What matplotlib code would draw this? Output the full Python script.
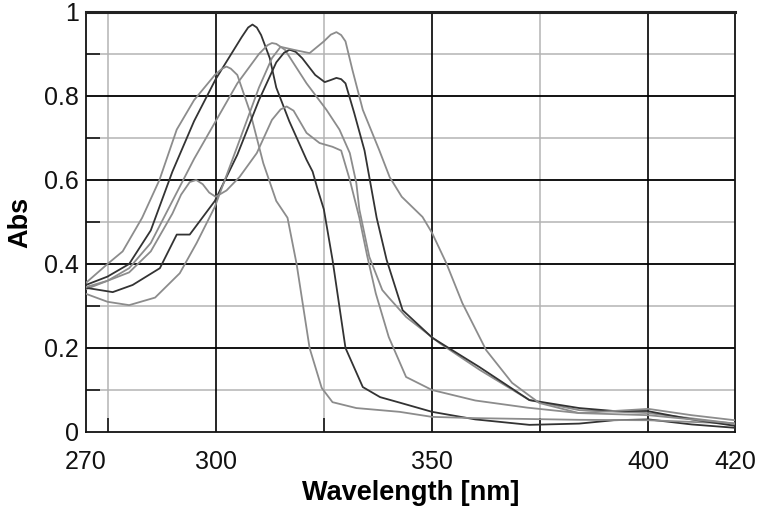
import matplotlib
matplotlib.use("Agg")
import matplotlib.pyplot as plt
from matplotlib.ticker import FixedLocator

plt.rcParams['font.family'] = ['Liberation Sans', 'DejaVu Sans']

DARK = '#333333'
GREY = '#8c8c8c'

# spectra: wavelength [nm], absorbance
c1_x = [270, 275, 280, 285, 290, 295, 300, 303, 306, 307.5, 308.5, 309.5, 310.5, 312.5, 314, 317, 321, 322.4,
        323.5, 325, 327, 330, 334, 338, 342.5, 350, 360, 372.5, 384, 392, 400, 410, 420]
c1_y = [0.35, 0.37, 0.40, 0.48, 0.62, 0.74, 0.84, 0.89, 0.94, 0.963, 0.97, 0.963, 0.945, 0.89, 0.82, 0.74, 0.648, 0.62,
        0.58, 0.53, 0.41, 0.20, 0.107, 0.083, 0.07, 0.048, 0.03, 0.017, 0.02, 0.028, 0.03, 0.018, 0.01]

c2_x = [270, 275, 278.5, 283, 287, 291, 295, 299.8, 301.5, 302.5, 303.5, 305, 308, 311, 314, 316.6, 318.7, 321.7,
        324.5, 327, 332.5, 342.5, 350, 360, 384, 400, 420]
c2_y = [0.355, 0.40, 0.43, 0.51, 0.60, 0.72, 0.79, 0.85, 0.865, 0.87, 0.865, 0.85, 0.76, 0.64, 0.55, 0.51, 0.40, 0.20,
        0.105, 0.071, 0.057, 0.048, 0.036, 0.033, 0.029, 0.028, 0.02]

c3_x = [270, 275, 280, 285, 290, 295, 300, 305, 310, 312, 313, 314, 316, 321, 325.6, 328.6, 331, 332.5, 333.2,
        335.5, 338.5, 340, 344, 351.7, 361, 372.5, 384, 400, 420]
c3_y = [0.34, 0.36, 0.39, 0.45, 0.55, 0.65, 0.74, 0.83, 0.90, 0.921, 0.926, 0.924, 0.91, 0.83, 0.767, 0.72, 0.664, 0.593, 0.53,
        0.417, 0.338, 0.32, 0.274, 0.212, 0.148, 0.076, 0.052, 0.045, 0.02]

c4_x = [270.2, 276.2, 280.8, 287.1, 291, 294, 299.8, 305, 310, 314, 315.8, 317.1, 318.5, 320, 323, 325.2, 326.6, 327.9,
        329, 330, 332, 334.4, 337.2, 339.5, 343.2, 350.1, 360.9, 372.5, 384, 392, 399.7, 410, 419.8]
c4_y = [0.343, 0.333, 0.35, 0.39, 0.47, 0.47, 0.55, 0.66, 0.79, 0.88, 0.903, 0.91, 0.905, 0.89, 0.85, 0.833, 0.838, 0.843,
        0.84, 0.83, 0.76, 0.67, 0.51, 0.41, 0.29, 0.224, 0.155, 0.076, 0.057, 0.05, 0.05, 0.03, 0.015]

c5_x = [270, 275, 280, 286, 291.7, 295.6, 299.8, 305, 310, 313, 315, 318, 321.7, 325, 326.6, 327.9, 329, 330, 331.6,
        334, 337.8, 340.2, 343, 347.8, 350, 353.3, 357, 362.5, 368.5, 374.8, 384, 392, 400, 410, 420]
c5_y = [0.329, 0.31, 0.302, 0.32, 0.378, 0.45, 0.536, 0.68, 0.82, 0.89, 0.917, 0.91, 0.902, 0.93, 0.946, 0.952, 0.945, 0.93, 0.862,
        0.767, 0.671, 0.607, 0.56, 0.512, 0.474, 0.402, 0.307, 0.195, 0.117, 0.069, 0.045, 0.05, 0.055, 0.04, 0.028]

c6_x = [270, 275, 280, 285, 290, 292, 294, 295.5, 297, 298.5, 300, 302.5, 305.5, 309.5, 313, 315, 316.4, 318, 321, 324,
        327, 329, 331, 333.2, 335, 337, 340, 344, 350, 360, 372, 384, 400, 420]
c6_y = [0.345, 0.36, 0.38, 0.43, 0.52, 0.565, 0.595, 0.60, 0.59, 0.57, 0.56, 0.575, 0.607, 0.664, 0.743, 0.768, 0.775, 0.765, 0.712, 0.688,
        0.679, 0.67, 0.60, 0.51, 0.42, 0.33, 0.226, 0.131, 0.10, 0.075, 0.058, 0.045, 0.04, 0.02]

curves = [(c1_x, c1_y, DARK), (c2_x, c2_y, GREY), (c3_x, c3_y, GREY),
          (c4_x, c4_y, DARK), (c5_x, c5_y, GREY), (c6_x, c6_y, GREY)]

x_major = [270, 300, 350, 400, 420]
x_grid_dark = [300, 350, 400]
x_grid_light = [275, 325, 375]
y_major = [0, 0.2, 0.4, 0.6, 0.8, 1]
y_labels = ['0', '0.2', '0.4', '0.6', '0.8', '1']
y_minor = [0.1, 0.3, 0.5, 0.7, 0.9]

fig = plt.figure(figsize=(7.6, 5.11), dpi=100)
ax = fig.add_axes([0.113, 0.1546, 0.854, 0.822])

for x in x_grid_light:
    ax.axvline(x, color='#b4b4b4', lw=1.1, zorder=1)
for y in y_minor:
    ax.axhline(y, color='#b4b4b4', lw=1.1, zorder=1)
for x in x_grid_dark:
    ax.axvline(x, color='black', lw=1.2, zorder=1)
for y in y_major[1:-1]:
    ax.axhline(y, color='black', lw=1.3, zorder=1)

for xs, ys, col in curves:
    ax.plot(xs, ys, color=col, lw=1.3, zorder=3, solid_joinstyle='round')

ax.set_xlim(270, 420)
ax.set_ylim(0, 1)
ax.set_xticks(x_major)
ax.set_xticklabels([str(v) for v in x_major])
ax.set_yticks(y_major)
ax.set_yticklabels(y_labels)
ax.xaxis.set_minor_locator(FixedLocator(x_grid_light))
ax.yaxis.set_minor_locator(FixedLocator(y_minor))
ax.tick_params(which='major', length=0, labelsize=18, colors='#111111')
ax.tick_params(axis='x', which='major', pad=13)
ax.tick_params(axis='y', which='major', pad=5)
ax.tick_params(which='minor', direction='in', length=10, width=1.3, color='#222222')

for side in ['left', 'bottom', 'right']:
    ax.spines[side].set_linewidth(1.3)
    ax.spines[side].set_color('#111111')
ax.spines['top'].set_linewidth(2.2)
ax.spines['top'].set_color('#222222')

ax.set_xlabel('Wavelength [nm]', fontsize=19.5, fontweight='bold', labelpad=4)
ax.set_ylabel('Abs', fontsize=19.5, fontweight='bold', labelpad=8)

fig.savefig('out.png', dpi=100)
